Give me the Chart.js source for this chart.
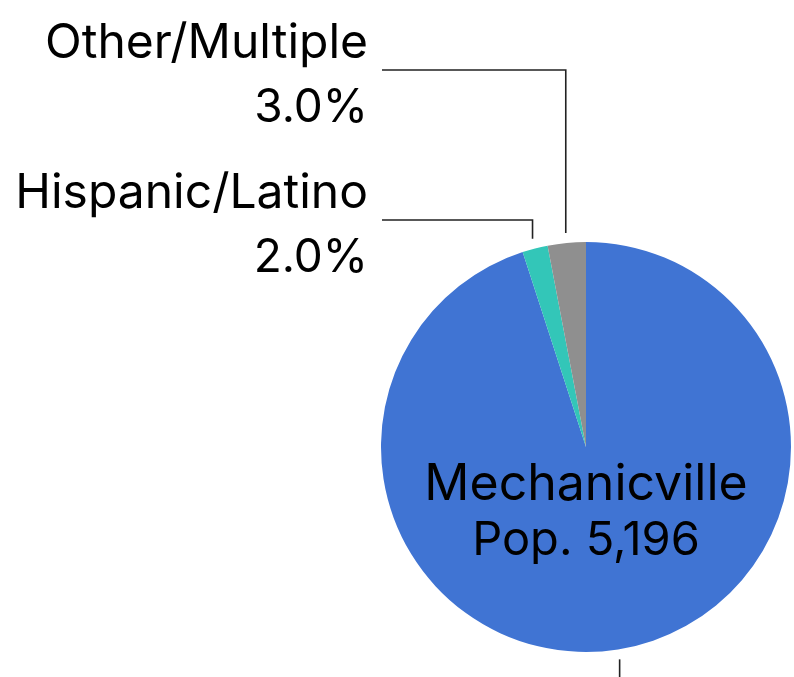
<!DOCTYPE html>
<html>
<head>
<meta charset="utf-8">
<script src="https://cdn.jsdelivr.net/npm/chart.js@4.4.0/dist/chart.umd.min.js"></script>
<style>
  html, body { margin: 0; padding: 0; background: #ffffff; }
  #wrap { width: 794px; height: 677px; }
</style>
</head>
<body>
<div id="wrap"><canvas id="c" width="794" height="677"></canvas></div>
<script>
// ---- data ----
const categories = ["White", "Hispanic/Latino", "Other/Multiple"];
const shares = [95.0, 2.0, 3.0];
const sliceColors = ["#4074D3", "#33C6B8", "#8F8F8F"];
const placeName = "Mechanicville";
const population = "5,196";
// labels drawn at left with leader lines (index, label line y)
const outerLabels = [
  { index: 2, lineY: 70 },
  { index: 1, lineY: 220 }
];

const FONT = '"Inter", "Roboto", sans-serif';

const labelPlugin = {
  id: 'labels',
  afterDraw(chart) {
    const ctx = chart.ctx;
    const meta = chart.getDatasetMeta(0);
    const total = shares.reduce((a, b) => a + b, 0);
    ctx.save();
    ctx.strokeStyle = '#222';
    ctx.lineWidth = 1.6;
    ctx.fillStyle = '#000';
    const first = meta.data[0];
    const cx = first.x, cy = first.y, r = first.outerRadius;

    // leader for the big slice going off the bottom
    {
      const a = (first.startAngle + first.endAngle) / 2;
      const px = cx + Math.cos(a) * (r + 10);
      const py = cy + Math.sin(a) * (r + 10);
      ctx.beginPath();
      ctx.moveTo(px, py);
      ctx.lineTo(px, chart.height + 5);
      ctx.stroke();
    }

    outerLabels.forEach(l => {
      const arc = meta.data[l.index];
      const a = (arc.startAngle + arc.endAngle) / 2;
      const px = cx + Math.cos(a) * (r + 10);
      const py = cy + Math.sin(a) * (r + 10);
      ctx.beginPath();
      ctx.moveTo(px, py);
      ctx.lineTo(px, l.lineY);
      ctx.lineTo(382, l.lineY);
      ctx.stroke();
      ctx.textAlign = 'right';
      ctx.textBaseline = 'alphabetic';
      ctx.font = '48px ' + FONT;
      ctx.fillText(categories[l.index], 368, l.lineY - 12);
      ctx.font = '46px ' + FONT;
      ctx.fillText((shares[l.index] / total * 100).toFixed(1) + '%', 368, l.lineY + 52);
    });

    ctx.textAlign = 'center';
    ctx.font = '50px ' + FONT;
    ctx.fillText(placeName, cx, cy + 53);
    ctx.font = '47px ' + FONT;
    ctx.fillText('Pop. ' + population, cx, cy + 108);
    ctx.restore();
  }
};

new Chart(document.getElementById('c'), {
  type: 'pie',
  data: {
    labels: categories,
    datasets: [{
      data: shares,
      backgroundColor: sliceColors,
      borderWidth: 0
    }]
  },
  options: {
    responsive: false,
    animation: false,
    layout: { padding: { left: 381, right: 3, top: 242, bottom: 25 } },
    plugins: {
      legend: { display: false },
      tooltip: { enabled: false }
    }
  },
  plugins: [labelPlugin]
});
</script>
</body>
</html>
